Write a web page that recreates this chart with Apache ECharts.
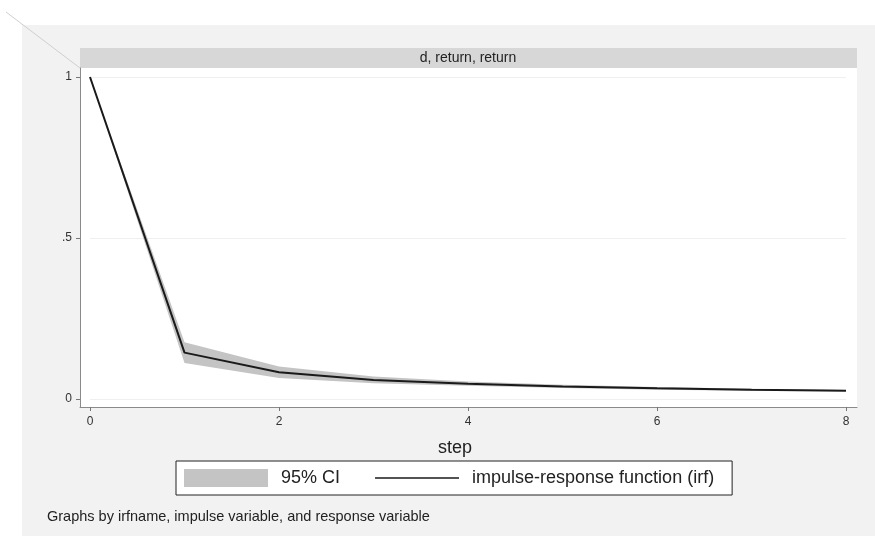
<!DOCTYPE html>
<html>
<head>
<meta charset="utf-8">
<script src="https://cdn.jsdelivr.net/npm/echarts@6/dist/echarts.min.js"></script>
<style>
  html, body { margin: 0; padding: 0; background: #ffffff; }
  #chart { width: 875px; height: 536px; }
</style>
</head>
<body>
<div id="chart"></div>
<script>
// Impulse-response function of return to return, with 95% confidence band
const steps = ['0', '1', '2', '3', '4', '5', '6', '7', '8'];
const irf   = [1, 0.144, 0.083, 0.059, 0.047, 0.039, 0.033, 0.029, 0.026];
const ciLow = [1, 0.112, 0.065, 0.049, 0.041, 0.034, 0.029, 0.026, 0.023];
const ciUp  = [1, 0.176, 0.101, 0.070, 0.054, 0.044, 0.037, 0.032, 0.029];
const yTickLabels = { 0: '0', 0.5: '.5', 1: '1' };

const FONT = '"Liberation Sans", Arial, sans-serif';
const bandColor = '#c4c4c4';
const axisGray = '#8a8a8a';

// band drawn as lower bound + stacked width
const ciSpan = ciUp.map((u, i) => +(u - ciLow[i]).toFixed(4));

const chart = echarts.init(document.getElementById('chart'), null, { renderer: 'canvas' });

chart.setOption({
  animation: false,
  backgroundColor: '#ffffff',
  textStyle: { fontFamily: FONT },
  graphic: [
    { type: 'rect', z: -10, silent: true,
      shape: { x: 22, y: 25, width: 853, height: 511 },
      style: { fill: '#f2f2f2' } },
    { type: 'line', z: -5, silent: true,
      shape: { x1: 6, y1: 12, x2: 80, y2: 68 },
      style: { stroke: '#cfcfcf', lineWidth: 1 } },
    { type: 'group', left: 80, top: 48, children: [
      { type: 'rect', shape: { x: 0, y: 0, width: 777, height: 20 },
        style: { fill: '#d7d7d7' } },
      { type: 'text', x: 388, y: 10,
        style: { text: 'd, return, return', fill: '#222', font: '14px ' + FONT,
                 textAlign: 'center', textVerticalAlign: 'middle' } }
    ] }
  ],
  title: {
    text: 'Graphs by irfname, impulse variable, and response variable',
    left: 42, top: 504,
    textStyle: { fontSize: 14.5, fontWeight: 'normal', color: '#222', fontFamily: FONT }
  },
  legend: {
    left: 176, top: 461,
    padding: [8, 18, 8, 8],
    backgroundColor: '#ffffff',
    borderColor: '#222',
    borderWidth: 1,
    borderRadius: 0,
    itemWidth: 84,
    itemHeight: 18,
    itemGap: 35,
    symbolKeepAspect: true,
    textStyle: { fontSize: 18, color: '#222', fontFamily: FONT, padding: [0, 0, 0, 8] },
    data: [
      { name: '95% CI', icon: 'rect', itemStyle: { color: bandColor } },
      { name: 'impulse-response function (irf)', icon: 'path://M0,0H100V2H0Z',
        itemStyle: { color: '#1a1a1a' } }
    ]
  },
  grid: [
    // plot region frame
    { left: 80, top: 68, width: 777, height: 339, show: true,
      backgroundColor: '#ffffff', borderWidth: 0, z: 0 },
    // data region
    { left: 90, top: 77, width: 756, height: 322 }
  ],
  xAxis: [
    { gridIndex: 0, type: 'value', min: 0, max: 1,
      axisLine: { show: true, lineStyle: { color: axisGray, width: 1 } },
      axisTick: { show: false }, axisLabel: { show: false }, splitLine: { show: false } },
    { gridIndex: 1, type: 'category', data: steps, boundaryGap: false, offset: 8,
      name: 'step', nameLocation: 'middle', nameGap: 32,
      nameTextStyle: { fontSize: 18, color: '#222', fontFamily: FONT, padding: [0, 26, 0, 0] },
      axisLine: { show: false, onZero: false },
      axisTick: { show: true, length: 4, interval: 1, lineStyle: { color: '#777' } },
      axisLabel: { fontSize: 12, color: '#333', margin: 9, interval: 1 },
      splitLine: { show: false } }
  ],
  yAxis: [
    { gridIndex: 0, type: 'value', min: 0, max: 1,
      axisLine: { show: true, lineStyle: { color: axisGray, width: 1 } },
      axisTick: { show: false }, axisLabel: { show: false }, splitLine: { show: false } },
    { gridIndex: 1, type: 'value', min: 0, max: 1, interval: 0.5, offset: 10,
      axisLine: { show: false, onZero: false },
      axisTick: { show: true, length: 4, lineStyle: { color: '#777' } },
      axisLabel: { fontSize: 12, color: '#333', margin: 8,
                   formatter: v => yTickLabels[v] !== undefined ? yTickLabels[v] : '' },
      splitLine: { show: true, lineStyle: { color: '#efefef', width: 1 } } }
  ],
  series: [
    { name: 'ci-low', type: 'line', xAxisIndex: 1, yAxisIndex: 1,
      data: ciLow, stack: 'ci', symbol: 'none',
      lineStyle: { opacity: 0 }, silent: true, z: 2 },
    { name: '95% CI', type: 'line', xAxisIndex: 1, yAxisIndex: 1,
      data: ciSpan, stack: 'ci', symbol: 'none',
      lineStyle: { opacity: 0 },
      areaStyle: { color: bandColor, opacity: 1 },
      itemStyle: { color: bandColor }, z: 2 },
    { name: 'impulse-response function (irf)', type: 'line', xAxisIndex: 1, yAxisIndex: 1,
      data: irf, symbol: 'none',
      lineStyle: { color: '#1a1a1a', width: 2 },
      itemStyle: { color: '#1a1a1a' }, z: 3 }
  ]
});
</script>
</body>
</html>
